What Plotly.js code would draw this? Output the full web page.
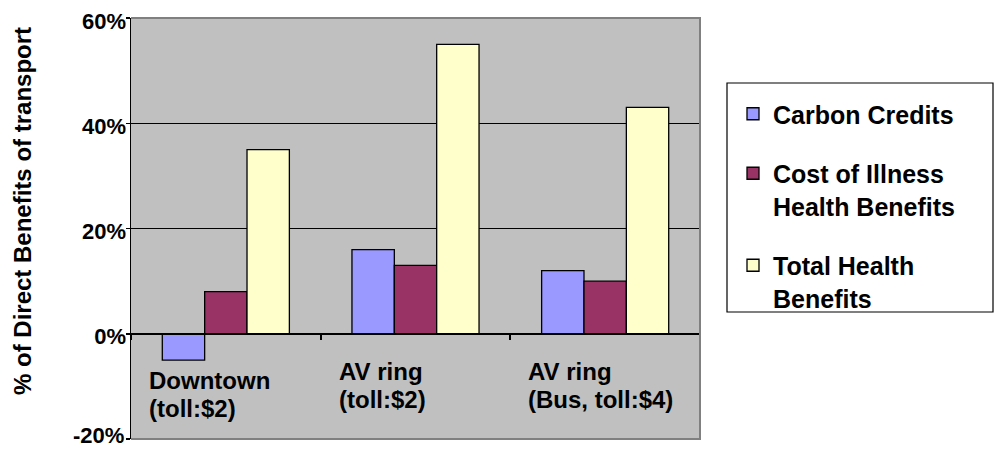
<!DOCTYPE html>
<html>
<head>
<meta charset="utf-8">
<script src="https://cdn.plot.ly/plotly-3.0.1.min.js"></script>
<style>html,body{margin:0;padding:0;background:#fff;}#chart{width:995px;height:450px;}</style>
</head>
<body>
<div id="chart"></div>
<script>
// ---- data ----
const categories = ['Downtown<br>(toll:$2)', 'AV ring<br>(toll:$2)', 'AV ring<br>(Bus, toll:$4)'];
const seriesNames = ['Carbon Credits', 'Cost of Illness<br>Health Benefits', 'Total Health<br>Benefits'];
const carbonCredits = [-5, 16, 12];
const costOfIllness = [8, 13, 10];
const totalHealthBenefits = [35, 55, 43];
const yTickValues = [-20, 0, 20, 40, 60];
const yTickLabels = ['-20%', '0%', '20%', '40%', '60%'];
const yAxisTitle = '% of Direct Benefits of transport';

// ---- styling ----
const FONT = 'Liberation Sans, Arial, sans-serif';
const colors = ['#9999ff', '#993366', '#ffffcc'];
const seriesValues = [carbonCredits, costOfIllness, totalHealthBenefits];

const traces = seriesValues.map((vals, i) => ({
  type: 'bar',
  x: categories,
  y: vals,
  name: seriesNames[i],
  legendgroup: 'g' + i,
  marker: {color: colors[i], line: {color: '#000', width: 1.3}},
  hoverinfo: 'none'
}));

// category labels drawn as left-aligned text under the zero line
const labelShift = [-47, -38, -38];
const annotations = [];
categories.forEach((c, i) => {
  c.split('<br>').forEach((line, j) => {
    annotations.push({
      x: c, xref: 'x', y: 0, yref: 'y',
      text: line, showarrow: false,
      xanchor: 'left', yanchor: 'middle', align: 'left',
      xshift: -79, yshift: labelShift[i] - 28 * j,
      font: {family: FONT, size: 24, color: '#000', weight: 'bold'}
    });
  });
});
annotations.push({
  xref: 'paper', yref: 'paper',
  x: (22 - 131) / 569, y: (439 - 211) / 421,
  text: yAxisTitle, showarrow: false, textangle: -90,
  xanchor: 'center', yanchor: 'middle',
  font: {family: FONT, size: 24, color: '#000', weight: 'bold'}
});
// lowest tick label kept inside the picture (bottom edge of the chart)
annotations.push({
  xref: 'paper', x: 0, xanchor: 'right', xshift: -5,
  yref: 'y', y: yTickValues[0], yanchor: 'middle', yshift: 4,
  text: yTickLabels[0], showarrow: false,
  font: {family: FONT, size: 22, color: '#000', weight: 'bold'}
});

const layout = {
  width: 995, height: 450, autosize: false,
  margin: {l: 131, r: 295, t: 18, b: 11, pad: 0},
  paper_bgcolor: '#ffffff',
  plot_bgcolor: '#c0c0c0',
  font: {family: FONT, color: '#000', weight: 'bold'},
  barmode: 'group',
  bargap: 0.33,
  bargroupgap: 0,
  showlegend: true,
  legend: {
    x: (733 - 131) / 569, xanchor: 'left',
    y: (439 - 91) / 421, yanchor: 'top',
    bgcolor: 'rgba(0,0,0,0)', borderwidth: 0,
    font: {family: FONT, size: 25, color: '#000', weight: 'bold'},
    traceorder: 'grouped', tracegroupgap: 24, valign: 'top'
  },
  xaxis: {
    type: 'category',
    anchor: 'free', position: 0.25,
    showline: true, linecolor: '#000', linewidth: 2,
    ticks: 'outside', tickson: 'boundaries', ticklen: 5, tickwidth: 2, tickcolor: '#000',
    showticklabels: false, showgrid: false, zeroline: false,
    fixedrange: true
  },
  yaxis: {
    range: [-20, 60],
    tickvals: yTickValues,
    ticktext: yTickLabels.map((t, i) => i === 0 ? '' : t),
    showline: true, linecolor: '#000', linewidth: 1.5,
    ticks: 'outside', ticklen: 4, tickwidth: 1.5, tickcolor: '#000',
    showgrid: true, gridcolor: '#000', gridwidth: 1.2,
    zeroline: false,
    ticklabelshift: 3,
    ticklabelstandoff: -5,
    ticklabeloverflow: 'allow',
    tickfont: {family: FONT, size: 22, color: '#000', weight: 'bold'},
    fixedrange: true
  },
  shapes: [
    {type: 'path', xref: 'paper', yref: 'paper', path: 'M0,1 L1,1 L1,0 L0,0',
     line: {color: '#808080', width: 2}, layer: 'above'},
    {type: 'rect', xref: 'paper', yref: 'paper',
     x0: (727 - 131) / 569, x1: (993 - 131) / 569,
     y0: (439 - 312) / 421, y1: (439 - 83) / 421,
     line: {color: '#000', width: 1.2}, fillcolor: 'rgba(0,0,0,0)'}
  ],
  annotations: annotations
};

Plotly.newPlot('chart', traces, layout, {displayModeBar: false, staticPlot: true});
</script>
</body>
</html>
